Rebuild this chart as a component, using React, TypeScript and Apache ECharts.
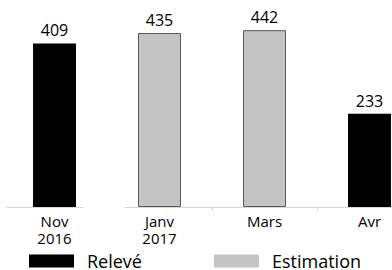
import React, { useEffect, useRef } from "react";
import * as echarts from "echarts";

const categories = ["Nov\n2016", "Janv\n2017", "Mars", "Avr"];
const releve = [409, "-", "-", 233];
const estimation = ["-", 435, 442, "-"];
const FONT = "'Open Sans', 'Noto Sans', sans-serif";

export default function App() {
  const ref = useRef<HTMLDivElement>(null);
  useEffect(() => {
    if (!ref.current) return;
    const chart = echarts.init(ref.current, null, { renderer: "svg" });
    chart.setOption({
      animation: false,
      textStyle: { fontFamily: FONT },
      grid: { left: 2, top: 7, width: 420, height: 200, outerBoundsMode: "none", containLabel: false },
      xAxis: {
        type: "category",
        data: categories,
        axisLine: { lineStyle: { color: "#d9d9d9", width: 1 } },
        axisTick: { show: true, length: 4, lineStyle: { color: "#d9d9d9" } },
        axisLabel: { color: "#000", fontSize: 15, lineHeight: 17, margin: 5, fontFamily: FONT },
      },
      yAxis: {
        type: "value",
        min: 0,
        max: 500,
        show: false,
        splitLine: { show: false },
      },
      legend: {
        left: 29,
        top: 252,
        padding: 0,
        itemWidth: 45,
        itemHeight: 13,
        itemGap: 72,
        icon: "rect",
        itemStyle: { borderWidth: 0 },
        textStyle: { color: "#000", fontSize: 18, fontFamily: FONT, padding: [2, 0, 0, 8] },
        data: [
          { name: "Relevé", itemStyle: { color: "#000000", borderWidth: 0 } },
          { name: "Estimation", itemStyle: { color: "#c4c4c4", borderWidth: 0 } },
        ],
      },
      series: [
        {
          name: "Relevé",
          type: "bar",
          data: releve,
          barWidth: 43,
          barGap: "-100%",
          itemStyle: { color: "#000000" },
          label: { show: true, position: "top", color: "#000", fontSize: 16, distance: 5, fontFamily: FONT },
        },
        {
          name: "Estimation",
          type: "bar",
          data: estimation,
          barWidth: 43,
          itemStyle: { color: "#c4c4c4", borderColor: "#5a5a5a", borderWidth: 1 },
          label: { show: true, position: "top", color: "#000", fontSize: 16, distance: 5, fontFamily: FONT },
        },
      ],
      graphic: [
        {
          type: "rect",
          shape: { x: 84, y: 205, width: 40, height: 8 },
          style: { fill: "#ffffff" },
          z: 100,
        },
        {
          type: "rect",
          shape: { x: 0, y: 205, width: 6, height: 8 },
          style: { fill: "#ffffff" },
          z: 100,
        },
      ],
    });
    return () => chart.dispose();
  }, []);
  return <div ref={ref} style={{ width: 392, height: 270, position: "absolute", left: 0, top: 0 }} />;
}
